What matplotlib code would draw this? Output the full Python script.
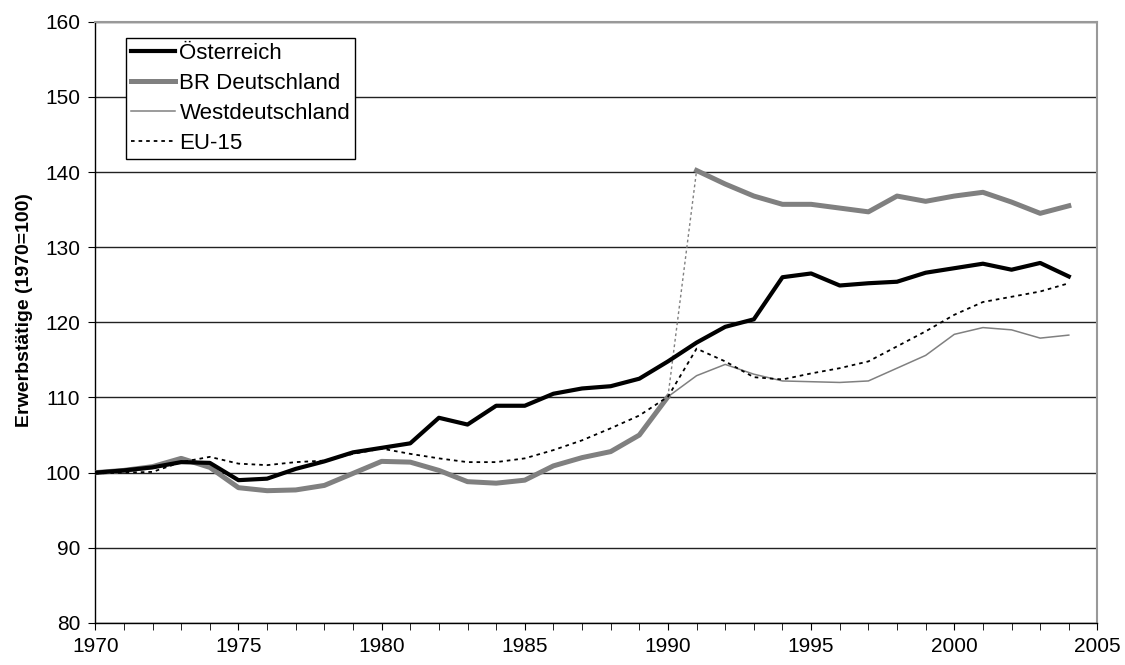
import matplotlib
matplotlib.use("Agg")
import matplotlib.pyplot as plt

# -------------------------
# DATA
# -------------------------
years = list(range(1970, 2005))

oesterreich = [100.0, 100.3, 100.7, 101.4, 101.3, 99.0, 99.2, 100.5, 101.5, 102.7,
               103.3, 103.9, 107.3, 106.4, 108.9, 108.9, 110.5, 111.2, 111.5, 112.5,
               114.8, 117.3, 119.4, 120.4, 126.0, 126.5, 124.9, 125.2, 125.4, 126.6,
               127.2, 127.8, 127.0, 127.9, 126.1]

br_deutschland = [100.0, 100.3, 100.8, 101.9, 100.7, 98.0, 97.6, 97.7, 98.3, 99.9,
                  101.5, 101.4, 100.3, 98.8, 98.6, 99.0, 100.9, 102.0, 102.8, 105.0,
                  110.1, 140.2, 138.4, 136.8, 135.7, 135.7, 135.2, 134.7, 136.8, 136.1,
                  136.8, 137.3, 136.0, 134.5, 135.5]

west_years = list(range(1990, 2005))
westdeutschland = [110.1, 112.9, 114.4, 113.1, 112.2, 112.1, 112.0, 112.2, 113.9, 115.6,
                   118.4, 119.3, 119.0, 117.9, 118.3]

eu15 = [99.9, 100.0, 100.1, 101.4, 102.1, 101.2, 101.0, 101.4, 101.6, 102.5,
        103.2, 102.5, 101.9, 101.4, 101.4, 101.9, 103.0, 104.3, 105.9, 107.6,
        110.1, 116.5, 114.8, 112.7, 112.4, 113.2, 113.9, 114.8, 116.8, 118.8,
        121.0, 122.7, 123.4, 124.1, 125.2]

labels = ["Österreich", "BR Deutschland", "Westdeutschland", "EU-15"]

# -------------------------
# FIGURE
# -------------------------
plt.rcParams["font.family"] = ["Liberation Sans", "DejaVu Sans"]

fig = plt.figure(figsize=(11.25, 6.65), dpi=100)
ax = fig.add_axes([0.0847, 0.0632, 0.9755 - 0.0847, 0.9674 - 0.0632])

gray = "#808080"
brk = 21  # German unification: 1991 index

# West Germany thin line (from 1990)
ax.plot(west_years, westdeutschland, color=gray, lw=1.1, zorder=3, label=labels[2])
# BRD: before and after the break, joined by a thin dotted segment
ax.plot(years[:brk], br_deutschland[:brk], color=gray, lw=3.6, zorder=4,
        solid_joinstyle="round", label=labels[1])
ax.plot(years[brk:], br_deutschland[brk:], color=gray, lw=3.6, zorder=4,
        solid_joinstyle="round")
ax.plot(years[brk - 1:brk + 1], br_deutschland[brk - 1:brk + 1], color=gray,
        lw=1.0, linestyle=(0, (2, 2)), zorder=3)
ax.plot(years, oesterreich, color="black", lw=3.0, zorder=5,
        solid_joinstyle="round", label=labels[0])
ax.plot(years, eu15, color="black", lw=1.3, linestyle=(0, (2, 2.2)), zorder=6,
        label=labels[3])

# -------------------------
# AXES
# -------------------------
ax.set_xlim(1970, 2005)
ax.set_ylim(80, 160)
ax.set_xticks(range(1970, 2006, 5))
ax.set_xticks(range(1970, 2006), minor=True)
ax.set_yticks(range(80, 161, 10))
ax.tick_params(axis="both", labelsize=15, color="black", direction="out")
ax.tick_params(axis="x", which="major", length=5, pad=5)
ax.tick_params(axis="x", which="minor", length=5)
ax.tick_params(axis="y", length=5, pad=6)

ax.yaxis.grid(True, color="#222222", lw=1.0)
ax.set_axisbelow(True)

for side in ["top", "right"]:
    ax.spines[side].set_color("#999999")
    ax.spines[side].set_linewidth(1.5)
for side in ["left", "bottom"]:
    ax.spines[side].set_color("black")
    ax.spines[side].set_linewidth(1.0)

ax.set_ylabel("Erwerbstätige (1970=100)", fontsize=14, fontweight="bold", labelpad=8)
ax.yaxis.set_label_coords(-0.062, 0.52)

# legend in series order
handles, lbls = ax.get_legend_handles_labels()
order = [lbls.index(l) for l in labels]
leg = ax.legend([handles[i] for i in order], [lbls[i] for i in order],
                loc="upper left", bbox_to_anchor=(125.7 / 1125, 1 - 38.3 / 665),
                bbox_transform=fig.transFigure, fontsize=16, frameon=True,
                fancybox=False, edgecolor="black", framealpha=1,
                borderpad=0.22, labelspacing=0.4, handlelength=2.0,
                handletextpad=0.2, borderaxespad=0)
leg.get_frame().set_linewidth(1.0)

plt.savefig("out.png", dpi=100)
